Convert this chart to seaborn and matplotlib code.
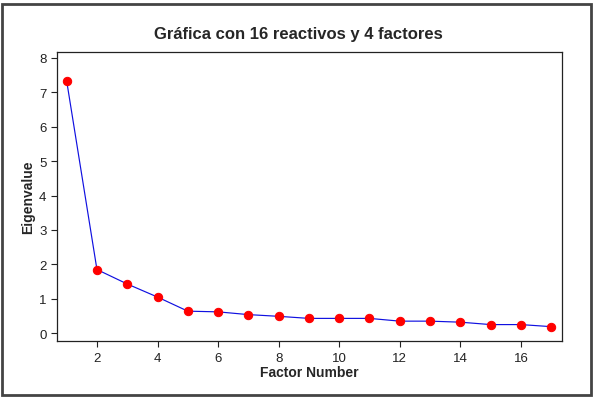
import matplotlib
matplotlib.use("Agg")
import matplotlib.pyplot as plt
import pandas as pd
import seaborn as sns
from matplotlib.patches import Rectangle

# scree plot values
factor_number = [1, 2, 3, 4, 5, 6, 7, 8, 9, 10, 11, 12, 13, 14, 15, 16, 17]
eigenvalue = [7.33, 1.85, 1.43, 1.05, 0.64, 0.62, 0.54, 0.49, 0.43, 0.43,
              0.43, 0.35, 0.35, 0.32, 0.25, 0.25, 0.19]
x_ticks = [2, 4, 6, 8, 10, 12, 14, 16]
y_ticks = [0, 1, 2, 3, 4, 5, 6, 7, 8]
title = "Gráfica con 16 reactivos y 4 factores"

df = pd.DataFrame({"Factor Number": factor_number, "Eigenvalue": eigenvalue})

sns.set_style("ticks")
plt.rcParams['font.family'] = ['Liberation Sans', 'DejaVu Sans']

fig = plt.figure(figsize=(5.96, 4.02), dpi=100)
ax = fig.add_axes([0.0956, 0.149, 0.847, 0.719])

sns.lineplot(data=df, x="Factor Number", y="Eigenvalue", ax=ax, color="#1010e0",
             linewidth=0.85, marker="o", markersize=6, markerfacecolor="red",
             markeredgecolor="red")

ax.set_xlim(0.68, 17.35)
ax.set_ylim(-0.23, 8.17)
ax.set_xticks(x_ticks)
ax.set_yticks(y_ticks)
ax.tick_params(which='major', length=4, width=0.8, labelsize=9.5, colors="#222222")
for axis in ['top', 'bottom', 'left', 'right']:
    ax.spines[axis].set_visible(True)
    ax.spines[axis].set_linewidth(0.9)
    ax.spines[axis].set_color("#222222")

ax.set_xlabel("Factor Number", size=10, fontdict=dict(weight='bold'), labelpad=1)
ax.set_ylabel("Eigenvalue", size=10, fontdict=dict(weight='bold'), labelpad=3)
fig.text(0.5, 0.913, title, ha="center", va="center", size=12, weight="bold")

# outer frame around the whole picture
fig.patches.append(Rectangle((0.003, 0.015), 0.988, 0.972, transform=fig.transFigure,
                             fill=False, edgecolor="#444444", linewidth=2))

fig.savefig("out.png", dpi=100)
